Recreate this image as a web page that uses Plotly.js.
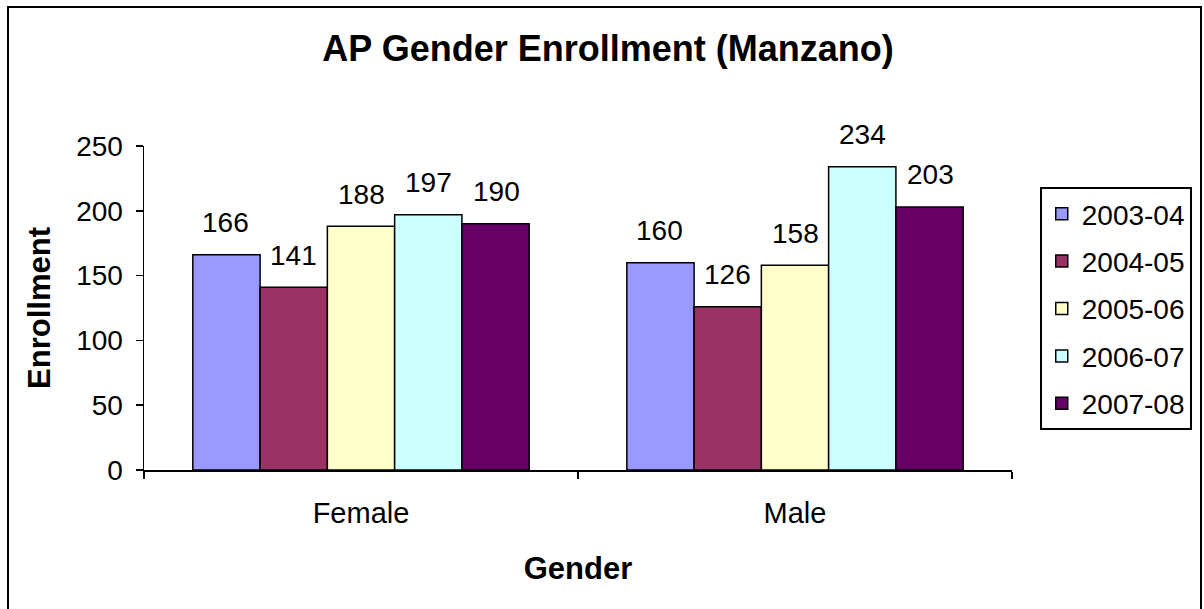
<!DOCTYPE html>
<html>
<head>
<meta charset="utf-8">
<script src="https://cdn.plot.ly/plotly-3.0.1.min.js"></script>
<style>
  html, body { margin:0; padding:0; background:#fff; overflow:hidden; }
  #wrap { position:relative; width:1204px; height:609px; }
  #chart { width:1204px; height:609px; }
  #frame { position:absolute; left:7px; top:6px; width:1191px; height:640px;
           border:2px solid #000; pointer-events:none; }
</style>
</head>
<body>
<div id="wrap">
  <div id="chart"></div>
  <div id="frame"></div>
</div>
<script>
const categories = ["Female", "Male"];
const seriesNames = ["2003-04", "2004-05", "2005-06", "2006-07", "2007-08"];
const values_2003_04 = [166, 160];
const values_2004_05 = [141, 126];
const values_2005_06 = [188, 158];
const values_2006_07 = [197, 234];
const values_2007_08 = [190, 203];
const seriesValues = [values_2003_04, values_2004_05, values_2005_06, values_2006_07, values_2007_08];
const colors = ["#9999FF", "#993366", "#FFFFCC", "#CCFFFF", "#660066"];
const yTicks = [0, 50, 100, 150, 200, 250];

const FONT = "Liberation Sans, Arial, sans-serif";
const W = 1204, H = 609;
const margin = {l: 144, r: 184, t: 146, b: 139, pad: 0};
const bargap = 0.225;
const plotW = W - margin.l - margin.r;
const plotH = H - margin.t - margin.b;
const catW = plotW / categories.length;
const barW = catW * (1 - bargap) / seriesNames.length;

const traces = seriesNames.map((name, i) => ({
  type: "bar",
  name: name,
  legendgroup: "g" + i,
  x: categories,
  y: seriesValues[i],
  marker: {color: colors[i], line: {color: "#000", width: 1.5}},
  hoverinfo: "skip"
}));

const annotations = [];
seriesNames.forEach((name, i) => {
  categories.forEach((c, j) => {
    annotations.push({
      x: c, xref: "x", y: seriesValues[i][j], yref: "y",
      text: String(seriesValues[i][j]),
      showarrow: false,
      xanchor: "center", yanchor: "middle",
      xshift: (i - (seriesNames.length - 1) / 2) * barW,
      yshift: 32,
      font: {family: FONT, size: 28, color: "#000"}
    });
  });
});

const layout = {
  width: W, height: H,
  margin: margin,
  paper_bgcolor: "#fff",
  plot_bgcolor: "#fff",
  barmode: "group",
  bargap: bargap,
  bargroupgap: 0,
  showlegend: true,
  title: {
    text: "<b>AP Gender Enrollment (Manzano)</b>",
    font: {family: FONT, size: 36, color: "#000"},
    x: 608 / W, xref: "container", xanchor: "center",
    y: 1 - 48.5 / H, yref: "container", yanchor: "middle"
  },
  xaxis: {
    type: "category",
    showline: true, linecolor: "#000", linewidth: 1.5,
    ticks: "outside", ticklen: 7, tickwidth: 1.5, tickcolor: "#000",
    tickson: "boundaries",
    ticklabelstandoff: 17,
    showgrid: false, zeroline: false,
    tickfont: {family: FONT, size: 29, color: "#000"},
    title: {text: "<b>Gender</b>", font: {family: FONT, size: 31, color: "#000"}, standoff: 29},
    fixedrange: true
  },
  yaxis: {
    range: [0, 250],
    tickvals: yTicks,
    ticktext: yTicks.map(String),
    showline: true, linecolor: "#000", linewidth: 1.5,
    ticks: "outside", ticklen: 7, tickwidth: 1.5, tickcolor: "#000",
    ticklabelstandoff: 7,
    showgrid: false, zeroline: false,
    tickfont: {family: FONT, size: 28, color: "#000"},
    title: {text: "<b>Enrollment</b>", font: {family: FONT, size: 31, color: "#000"}, standoff: 16},
    fixedrange: true
  },
  legend: {
    x: (1048 - margin.l) / plotW, xanchor: "left",
    y: 1 - (187 - margin.t) / plotH, yanchor: "top",
    bgcolor: "#fff", bordercolor: "#000", borderwidth: 2,
    font: {family: FONT, size: 28, color: "#000"},
    traceorder: "grouped",
    itemwidth: 30,
    tracegroupgap: 8
  },
  annotations: annotations
};

Plotly.newPlot("chart", traces, layout, {staticPlot: true, displayModeBar: false});
</script>
</body>
</html>
